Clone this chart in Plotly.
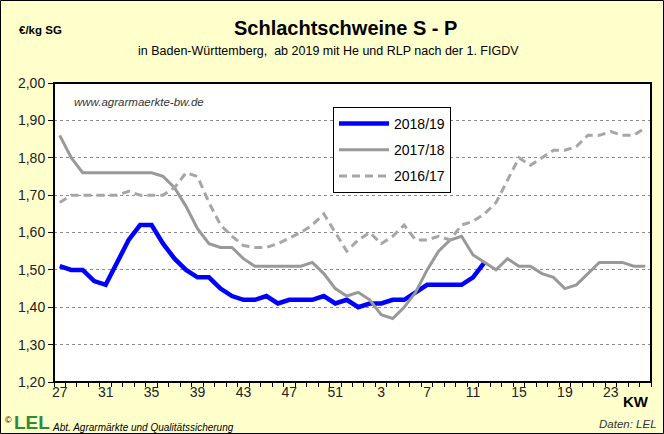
import plotly.graph_objects as go

weeks = list(range(27, 53)) + list(range(1, 27))
tick_weeks = [27, 31, 35, 39, 43, 47, 51, 3, 7, 11, 15, 19, 23]

s2018_19 = [1.51, 1.50, 1.50, 1.47, 1.46, 1.52, 1.58, 1.62, 1.62, 1.57, 1.53, 1.50, 1.48, 1.48,
            1.45, 1.43, 1.42, 1.42, 1.43, 1.41, 1.42, 1.42, 1.42, 1.43, 1.41, 1.42, 1.40, 1.41,
            1.41, 1.42, 1.42, 1.44, 1.46, 1.46, 1.46, 1.46, 1.48, 1.52]
s2017_18 = [1.86, 1.80, 1.76, 1.76, 1.76, 1.76, 1.76, 1.76, 1.76, 1.75, 1.72, 1.67, 1.61, 1.57,
            1.56, 1.56, 1.53, 1.51, 1.51, 1.51, 1.51, 1.51, 1.52, 1.49, 1.45, 1.43, 1.44, 1.42,
            1.38, 1.37, 1.40, 1.44, 1.50, 1.55, 1.58, 1.59, 1.54, 1.52, 1.50, 1.53, 1.51, 1.51,
            1.49, 1.48, 1.45, 1.46, 1.49, 1.52, 1.52, 1.52, 1.51, 1.51]
s2016_17 = [1.68, 1.70, 1.70, 1.70, 1.70, 1.70, 1.71, 1.70, 1.70, 1.70, 1.72, 1.76, 1.75, 1.68,
            1.62, 1.59, 1.565, 1.56, 1.56, 1.57, 1.585, 1.60, 1.62, 1.65, 1.60, 1.55, 1.58, 1.60,
            1.57, 1.59, 1.62, 1.58, 1.58, 1.59, 1.58, 1.62, 1.63, 1.65, 1.68, 1.74, 1.80, 1.78,
            1.80, 1.82, 1.82, 1.83, 1.86, 1.86, 1.87, 1.86, 1.86, 1.88]

y_ticks = [1.2, 1.3, 1.4, 1.5, 1.6, 1.7, 1.8, 1.9, 2.0]

W, H = 664, 434
ML, MR, MT, MB = 54, 13, 83, 52
PW, PH = W - ML - MR, H - MT - MB

def px(x):  # pixel -> paper x
    return (x - ML) / PW

def py(y):  # pixel -> paper y
    return (H - MB - y) / PH

pos = list(range(len(weeks)))
tickpos = [weeks.index(w) for w in tick_weeks]

FONT = "Arial, Liberation Sans, sans-serif"
GRAY = "#999999"

fig = go.Figure()
fig.add_trace(go.Scatter(x=pos[:len(s2018_19)], y=s2018_19, mode="lines", name="2018/19",
                         line=dict(color="#0000FF", width=4.5), legendgroup="a"))
fig.add_trace(go.Scatter(x=pos[:len(s2017_18)], y=s2017_18, mode="lines", name="2017/18",
                         line=dict(color=GRAY, width=3), legendgroup="b"))
fig.add_trace(go.Scatter(x=pos[:len(s2016_17)], y=s2016_17, mode="lines", name="2016/17",
                         line=dict(color="#A6A6A6", width=3, dash="8px,5px"), legendgroup="c"))

fig.update_layout(
    width=W, height=H,
    margin=dict(l=ML, r=MR, t=MT, b=MB),
    paper_bgcolor="#FFFFCC",
    plot_bgcolor="#FFFFFF",
    separators=",.",
    font=dict(family=FONT, size=13, color="#000000"),
    showlegend=True,
    legend=dict(x=px(333), y=py(107), xanchor="left", yanchor="top",
                bgcolor="#FFFFFF", bordercolor="#000000", borderwidth=1,
                font=dict(family=FONT, size=14, color="#000000"),
                tracegroupgap=5, itemwidth=50),
    xaxis=dict(range=[-0.5, len(weeks) - 0.5], tickmode="array", tickvals=tickpos,
               ticktext=[str(w) for w in tick_weeks], ticks="", showgrid=False,
               zeroline=False, showline=False,
               tickfont=dict(family=FONT, size=14, color="#222222"),
               minor=dict(tickmode="linear", tick0=-0.5, dtick=1, ticks="outside",
                          ticklen=4, tickcolor="#000000", showgrid=False)),
    yaxis=dict(range=[1.2, 2.0], tickmode="array", tickvals=y_ticks, tickformat=".2f",
               ticks="outside", ticklen=5, tickcolor="#000000",
               showgrid=True, gridcolor="#8C8C8C", griddash="dot", gridwidth=1,
               zeroline=False, showline=False,
               tickfont=dict(family=FONT, size=14, color="#222222")),
)

shapes = [
    dict(type="rect", xref="paper", yref="paper", x0=0, x1=1, y0=0, y1=1,
         line=dict(color="#000000", width=2), layer="above"),
    dict(type="rect", xref="paper", yref="paper", x0=px(0.5), x1=px(W - 0.5),
         y0=py(H - 0.5), y1=py(0.5), line=dict(color="#000000", width=1)),
]
fig.update_layout(shapes=shapes)

ann = [
    dict(text="<b>Schlachtschweine S - P</b>", x=px(345), y=py(28), font=dict(size=20)),
    dict(text="in Baden-Württemberg,  ab 2019 mit He und RLP nach der 1. FIGDV",
         x=px(328), y=py(51), font=dict(size=12.5)),
    dict(text="<b>€/kg SG</b>", x=px(17), y=py(30), xanchor="left", font=dict(size=11.5)),
    dict(text="<i>www.agrarmaerkte-bw.de</i>", x=px(72), y=py(102), xanchor="left",
         font=dict(size=11.5, color="#333333")),
    dict(text="<b>KW</b>", x=px(636), y=py(401), font=dict(size=15)),
    dict(text="<i>Daten: LEL</i>", x=px(659), y=py(424), xanchor="right",
         font=dict(size=11.5, color="#333333")),
    dict(text="©", x=px(3), y=py(420), xanchor="left", font=dict(size=9)),
    dict(text="<b>LEL</b>", x=px(12), y=py(422), xanchor="left",
         font=dict(size=19, color="#2E8B3A")),
    dict(text="<i>Abt. Agrarmärkte und Qualitätssicherung</i>", x=px(50), y=py(427),
         xanchor="left", font=dict(size=10)),
]
for a in ann:
    a.setdefault("xanchor", "center")
    a.update(xref="paper", yref="paper", yanchor="middle", showarrow=False)
fig.update_layout(annotations=ann)

fig.write_html("out.html", config={"displayModeBar": False},
               post_script="document.body.style.margin='0';document.body.style.overflow='hidden';")
